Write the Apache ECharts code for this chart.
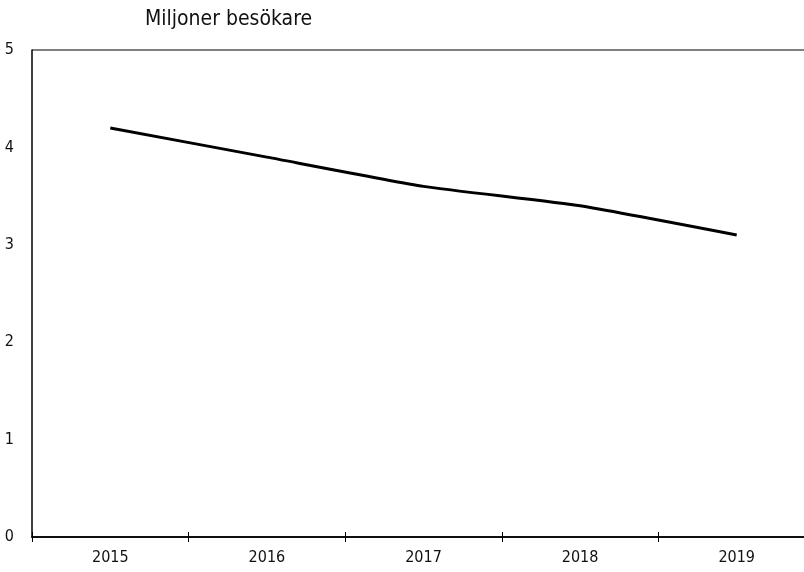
<!DOCTYPE html>
<html>
<head>
<meta charset="utf-8">
<script src="https://cdn.jsdelivr.net/npm/echarts@6/dist/echarts.min.js"></script>
<style>
  html, body { margin: 0; padding: 0; background: #fff; overflow: hidden; }
  #chart { width: 815px; height: 572px; }
</style>
</head>
<body>
<div id="chart"></div>
<script>
const years = ['2015', '2016', '2017', '2018', '2019'];
const visitors = [4.2, 3.9, 3.6, 3.4, 3.1];
const yTicks = [0, 1, 2, 3, 4, 5];

const font = '"DejaVu Sans Condensed", "Liberation Sans Narrow", sans-serif';
const chart = echarts.init(document.getElementById('chart'));

const xBase = {
    type: 'category',
    data: years,
    boundaryGap: true,
    axisLine: { show: true, lineStyle: { color: '#000', width: 1.5 } },
    axisTick: { show: true, length: 5, lineStyle: { color: '#000', width: 1 } },
    splitLine: { show: false }
};

const option = {
    animation: false,
    title: {
        text: 'Miljoner besökare',
        left: 140,
        top: 4,
        textStyle: { fontFamily: font, fontSize: 21, fontWeight: 'normal', color: '#111' }
    },
    grid: { left: 32, right: 0, top: 50, bottom: 35, containLabel: false },
    xAxis: [
        Object.assign({}, xBase, {
            axisLabel: { fontFamily: font, fontSize: 16, color: '#111', margin: 13 }
        }),
        Object.assign({}, xBase, {
            position: 'bottom',
            axisTick: { show: true, inside: true, length: 5, lineStyle: { color: '#000', width: 1 } },
            axisLabel: { show: false }
        })
    ],
    yAxis: {
        type: 'value',
        min: yTicks[0],
        max: yTicks[yTicks.length - 1],
        interval: 1,
        axisLine: { show: true, lineStyle: { color: '#000', width: 1.5 } },
        axisTick: { show: false },
        axisLabel: { fontFamily: font, fontSize: 16, color: '#111', margin: 18 },
        splitLine: {
            show: true,
            lineStyle: {
                color: ['transparent', 'transparent', 'transparent', 'transparent', 'transparent', '#808080'],
                width: 2
            }
        }
    },
    series: [{
        type: 'line',
        data: visitors,
        smooth: 0.15,
        symbol: 'none',
        lineStyle: { color: '#000', width: 3 }
    }]
};
chart.setOption(option);
</script>
</body>
</html>
